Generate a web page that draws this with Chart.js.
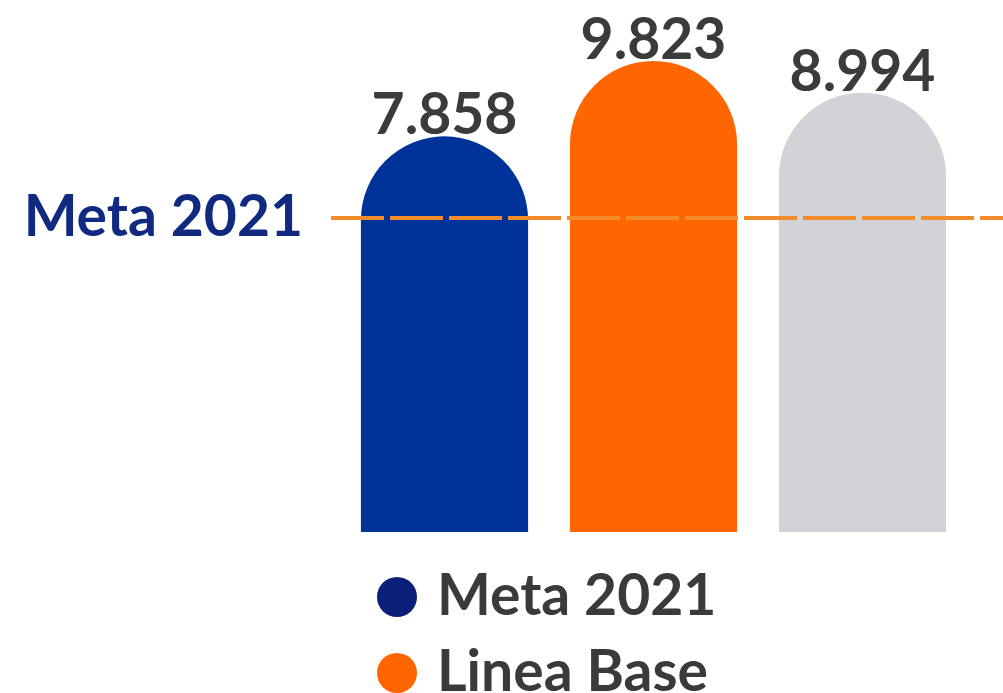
<!DOCTYPE html>
<html>
<head>
<meta charset="utf-8">
<script src="https://cdn.jsdelivr.net/npm/chart.js@4.4.1/dist/chart.umd.min.js"></script>
<style>
	html, body { margin: 0; padding: 0; background: #ffffff; }
	#wrap { width: 1003px; height: 693px; position: relative; }
</style>
</head>
<body>
<div id="wrap"><canvas id="barChart"></canvas></div>
<script>
// data
const categories = ["Meta 2021", "Linea Base", "Logro"];
const values = [7.858, 9.823, 8.994];
const valueLabels = ["7.858", "9.823", "8.994"];
const barColors = ["#003399", "#FF6600", "#D1D3D6"];
const metaLineValue = 5.73;
const metaLineLabel = "Meta 2021";
const legendLabels = ["Meta 2021", "Linea Base"];
const legendColors = ["#0B1F78", "#FF6600"];
const yMin = -2.45;
const yMax = 11.15;

const FONT = "Lato, 'Open Sans', sans-serif";

const overlay = {
	id: "overlay",
	afterDatasetsDraw(chart) {
		const ctx = chart.ctx;
		const yScale = chart.scales.y;
		const area = chart.chartArea;
		const lineY = yScale.getPixelForValue(metaLineValue);

		// dashed goal line
		ctx.save();
		ctx.strokeStyle = "#F28C28";
		ctx.lineWidth = 4;
		ctx.setLineDash([53, 6]);
		ctx.beginPath();
		ctx.moveTo(331, lineY);
		ctx.lineTo(chart.width, lineY);
		ctx.stroke();
		ctx.restore();

		// goal label on the left
		ctx.save();
		ctx.font = "bold 57px " + FONT;
		ctx.fillStyle = "#0F2A7F";
		ctx.textAlign = "right";
		ctx.textBaseline = "alphabetic";
		ctx.fillText(metaLineLabel, 303, lineY + 18);
		ctx.restore();

		// value labels above bars
		const meta = chart.getDatasetMeta(0);
		ctx.save();
		ctx.font = "bold 57px " + FONT;
		ctx.fillStyle = "#3B3B3B";
		ctx.textAlign = "center";
		ctx.textBaseline = "alphabetic";
		meta.data.forEach(function (bar, i) {
			ctx.fillText(valueLabels[i], bar.x, bar.y - 2);
		});
		ctx.restore();

		// legend, one item per row
		ctx.save();
		ctx.font = "bold 57px " + FONT;
		ctx.textAlign = "left";
		ctx.textBaseline = "alphabetic";
		legendLabels.forEach(function (label, i) {
			const cy = area.bottom + 65 + i * 76;
			ctx.fillStyle = legendColors[i];
			ctx.beginPath();
			ctx.arc(area.left + 57, cy, 20, 0, Math.PI * 2);
			ctx.fill();
			ctx.fillStyle = "#3A3A3A";
			ctx.fillText(label, area.left + 97, cy + 18);
		});
		ctx.restore();
	},
};

const ctx = document.getElementById("barChart").getContext("2d");

new Chart(ctx, {
	type: "bar",
	data: {
		labels: categories,
		datasets: [
			{
				data: values,
				base: yMin,
				backgroundColor: barColors,
				borderWidth: 0,
				borderRadius: { topLeft: 84, topRight: 84 },
				borderSkipped: "bottom",
				barPercentage: 0.8,
				categoryPercentage: 1,
			},
		],
	},
	options: {
		responsive: true,
		maintainAspectRatio: false,
		animation: false,
		layout: {
			padding: { left: 340, right: 36, top: 10, bottom: 161 },
		},
		scales: {
			x: { display: false },
			y: { display: false, min: yMin, max: yMax },
		},
		plugins: {
			legend: { display: false },
			tooltip: { enabled: false },
		},
	},
	plugins: [overlay],
});
</script>
</body>
</html>
